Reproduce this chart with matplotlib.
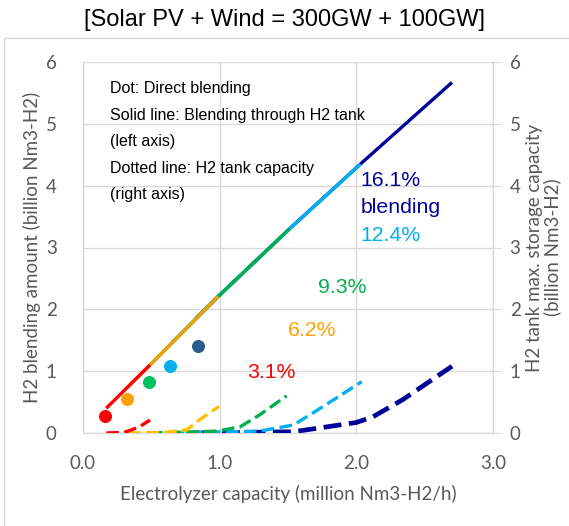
import matplotlib

matplotlib.use("Agg")
import matplotlib.pyplot as plt
from matplotlib.patches import Rectangle

# blending ratios
LABELS = ["3.1%", "6.2%", "9.3%", "12.4%", "16.1%"]
SOLID_COLORS = ["#FF0000", "#F0A000", "#00B050", "#00B0F0", "#000099"]
DASH_COLORS = ["#FF0000", "#FFC000", "#00B050", "#00B0F0", "#000099"]
DOT_COLORS = ["#FF0000", "#FFA000", "#00C060", "#00B0F0", "#2A5C8A"]
LABEL_COLORS = ["#FF0000", "#FFA000", "#00B050", "#00B0F0", "#000099"]

# direct blending (dots), left axis
DOT_X = [0.16, 0.32, 0.485, 0.64, 0.84]
DOT_Y = [0.28, 0.55, 0.82, 1.09, 1.40]

# blending through H2 tank (solid), left axis
SOLID_X = [
    [0.17, 0.49],
    [0.33, 0.49, 0.99],
    [0.49, 0.99, 1.51],
    [0.65, 0.99, 1.51, 2.03],
    [0.83, 0.99, 1.51, 2.03, 2.70],
]
SOLID_Y = [
    [0.40, 1.10],
    [0.75, 1.10, 2.21],
    [1.10, 2.21, 3.30],
    [1.46, 2.21, 3.30, 4.35],
    [1.86, 2.21, 3.30, 4.35, 5.67],
]

# H2 tank capacity (dashed), right axis
TANK_X = [
    [0.17, 0.30, 0.355, 0.42, 0.49],
    [0.33, 0.60, 0.76, 0.85, 0.995],
    [0.49, 0.98, 1.15, 1.29, 1.49],
    [0.65, 1.29, 1.54, 1.68, 2.04],
    [0.83, 1.54, 2.00, 2.12, 2.34, 2.70],
]
TANK_Y = [
    [0.0, 0.01, 0.05, 0.11, 0.21],
    [0.0, 0.01, 0.05, 0.21, 0.43],
    [0.0, 0.03, 0.10, 0.29, 0.60],
    [0.0, 0.03, 0.13, 0.32, 0.83],
    [0.0, 0.02, 0.17, 0.26, 0.54, 1.08],
]

GRID = "#D9D9D9"
TICK_TXT = "#595959"
TICK_FONT = ["Lato", "DejaVu Sans"]
ARIAL = ["Liberation Sans", "DejaVu Sans"]
AXFS = 13.5


def main() -> None:
    fig = plt.figure(figsize=(5.69, 5.26), dpi=100)
    fig.patches.append(Rectangle((4 / 569, -0.1), 1.2, 1.1 - 38 / 526,
                                 transform=fig.transFigure, fill=False,
                                 edgecolor=GRID, linewidth=1.0))
    ax = fig.add_axes((83 / 569, 1 - 433 / 526, 410 / 569, 371 / 526))
    ax2 = ax.twinx()

    for i in range(5):
        ax.plot(SOLID_X[i], SOLID_Y[i], color=SOLID_COLORS[i], lw=2.4,
                solid_capstyle="butt", zorder=10 - i)
        ax.scatter(DOT_X[i], DOT_Y[i], s=70, color=DOT_COLORS[i], zorder=12)
        lw = 3.4 if i == 4 else 2.4
        ax2.plot(TANK_X[i], TANK_Y[i], color=DASH_COLORS[i], lw=lw,
                 dashes=(3.8, 1.6), zorder=10 - i)

    for a in (ax, ax2):
        a.set_xlim(0, 3)
        a.set_ylim(0, 6)
        a.set_yticks(range(7))
        for s in a.spines.values():
            s.set_color(GRID)
        a.spines["top"].set_visible(False)
    ax.set_xticks([0, 1, 2, 3])
    ax.set_xticklabels(["0.0", "1.0", "2.0", "3.0"])
    ax.grid(True, color=GRID, lw=1.0)
    ax.set_axisbelow(True)
    ax.tick_params(axis="x", length=0, pad=16, labelsize=AXFS, labelcolor=TICK_TXT)
    ax.tick_params(axis="y", length=0, pad=19, labelsize=AXFS, labelcolor=TICK_TXT)
    ax2.tick_params(axis="y", length=6, color=GRID, pad=6, labelsize=AXFS, labelcolor=TICK_TXT)
    for lab in ax.get_xticklabels() + ax.get_yticklabels() + ax2.get_yticklabels():
        lab.set_family(TICK_FONT)

    ax.set_xlabel("Electrolyzer capacity (million Nm3-H2/h)", fontsize=AXFS,
                  color=TICK_TXT, family=TICK_FONT, labelpad=9)
    ax.set_ylabel("H2 blending amount (billion Nm3-H2)", fontsize=AXFS,
                  color=TICK_TXT, family=TICK_FONT, labelpad=3)
    ax2.set_ylabel("H2 tank max. storage capacity\n(billion Nm3-H2)", fontsize=AXFS,
                   color=TICK_TXT, family=TICK_FONT, labelpad=4, linespacing=1.0)

    notes = ["Dot: Direct blending", "Solid line: Blending through H2 tank",
             "(left axis)", "Dotted line: H2 tank capacity", "(right axis)"]
    for k, t in enumerate(notes):
        ax.text(0.195, 5.57 - k * 0.43, t, fontsize=11.5, family=ARIAL,
                va="center", ha="left", color="black")

    label_pos = [(1.20, 0.98), (1.50, 1.66), (1.72, 2.36), (2.03, 3.2), (2.03, 4.09)]
    for i in range(5):
        ax.text(label_pos[i][0], label_pos[i][1], LABELS[i], fontsize=15.3,
                family=ARIAL, color=LABEL_COLORS[i], va="center", ha="left")
    ax.text(2.03, 3.65, "blending", fontsize=15.3, family=ARIAL,
            color="#000099", va="center", ha="left")

    fig.text(0.5, 1 - 20 / 526, "[Solar PV + Wind = 300GW + 100GW]",
             fontsize=17, family=ARIAL, ha="center", va="center")

    fig.savefig("out.png", dpi=100)


if __name__ == "__main__":
    main()
